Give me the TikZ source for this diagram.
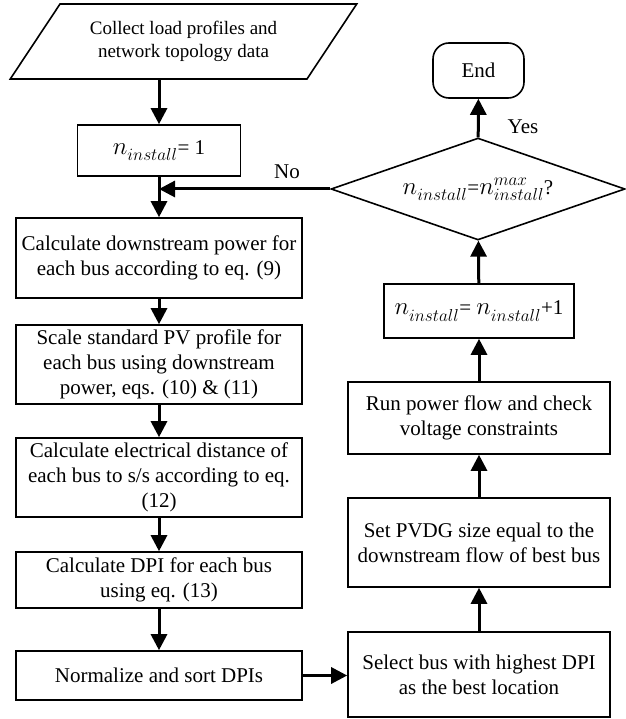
\documentclass[tikz,border=0pt]{standalone}
\usepackage{fontspec}
\setmainfont{Liberation Serif}
\usepackage{tikz}
\usetikzlibrary{shapes.geometric,     % losange, parallélogramme
           arrows.meta}               % pointes de flèches
\newcommand\ninst[1][]{{\fontsize{23.5}{25}\selectfont$n_{install}^{#1}$}}
\tikzset{boite/.style={draw,line width=1.6pt,minimum width=286pt,align=center,inner sep=2pt,
             font=\fontsize{21}{25}\selectfont},
         fleche/.style={line width=3pt,-{Triangle[length=16pt,width=16pt]}},
         etiq/.style={font=\fontsize{21}{25}\selectfont}}

\begin{document}
\begin{tikzpicture}[x=1pt,y=-1pt]
\useasboundingbox (0,0) rectangle (625,719);
\node[draw,trapezium,trapezium left angle=47,trapezium right angle=133,trapezium stretches=true,
    line width=1.6pt,minimum width=347pt,minimum height=75pt,inner sep=0pt,align=center,
    font=\fontsize{19}{23}\selectfont](data) at (183.5,41.5){Collect load profiles and\\network topology data};
\node[boite,minimum width=163pt,minimum height=51pt](init) at (159,150.5){\ninst= 1};
\node[boite,minimum height=80pt](down) at (159,258){Calculate downstream power for\\each bus according to eq. (9)};
\node[boite,minimum height=79pt](scale) at (159,364.5){Scale standard PV profile for\\each bus using downstream\\power, eqs. (10) \& (11)};
\node[boite,minimum height=79pt](dist) at (159,477.5){Calculate electrical distance of\\each bus to s/s according to eq.\\(12)};
\node[boite,minimum height=56pt](dpi) at (159,580){Calculate DPI for each bus\\using eq. (13)};
\node[boite,minimum height=49pt](norm) at (159,675.5){Normalize and sort DPIs};
\node[boite,minimum width=262pt,minimum height=85pt](select) at (479,674.5){Select bus with highest DPI\\as the best location};
\node[boite,minimum width=262pt,minimum height=89pt](size) at (479,542.5){Set PVDG size equal to the\\downstream flow of best bus};
\node[boite,minimum width=262pt,minimum height=72pt](flow) at (479,418){Run power flow and check\\voltage constraints};
\node[boite,minimum width=190pt,minimum height=54pt](incr) at (479,311){\ninst= \ninst+1};
\node[boite,diamond,aspect=2.88,minimum width=294pt,minimum height=102pt,inner sep=0pt](check) at (478,189)
    {\ninst=\ninst[max]?};
\node[boite,rounded corners=16pt,minimum width=91pt,minimum height=55pt](end) at (478.5,70.5){End};
\node[etiq](yes) at (523,127){Yes};
\node[etiq](no) at (287,172){No};
\draw[fleche](data.south -| init)--(init);
\draw[fleche](init)--(down);
\draw[fleche](check.west)--(check.west -| init);
\foreach \a/\b in {down/scale,scale/dist,dist/dpi,dpi/norm} \draw[fleche](\a)--(\b);
\draw[fleche](norm.east)--(norm.east -| select.west);
\foreach \a/\b in {select/size,size/flow,flow/incr,incr/check,check/end} \draw[fleche](\a)--(\b);
\end{tikzpicture}
\end{document}
